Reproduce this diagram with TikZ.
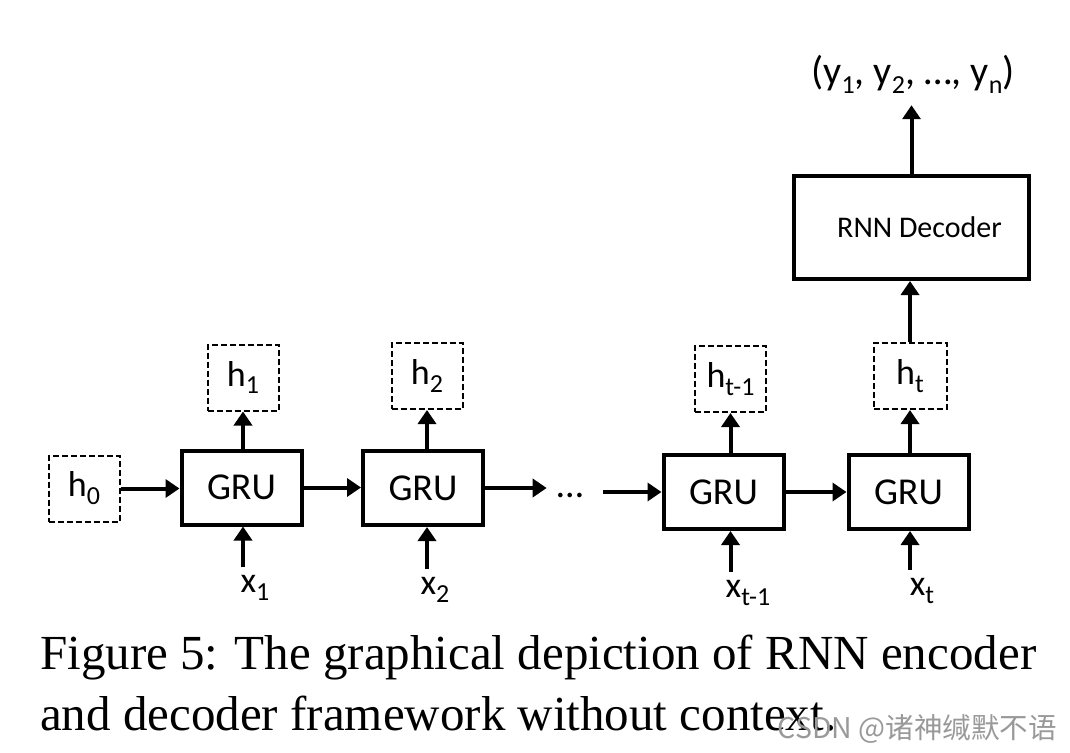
\documentclass[tikz,border=0pt]{standalone}
\usepackage{fontspec}
\usetikzlibrary{arrows.meta}
\newfontfamily\calfont{Carlito}
\newfontfamily\tnrfont{Liberation Serif}
\newfontfamily\cjkfont{Noto Sans CJK SC}
\newcommand\sbs[1]{\raisebox{-0.22em}{\fontsize{26pt}{26pt}\selectfont #1}}
\tikzset{
  grubox/.style={draw, line width=4pt, minimum width=120pt, minimum height=74pt, inner sep=0pt,
    font=\calfont\fontsize{38pt}{40pt}\selectfont},
  hbox/.style={draw, line width=2pt, dash pattern=on 6pt off 3pt, minimum width=71pt, minimum height=66pt, inner sep=0pt,
    font=\calfont\fontsize{36pt}{38pt}\selectfont},
  lbl/.style={inner sep=2pt, font=\calfont\fontsize{36pt}{38pt}\selectfont},
  conn/.style={line width=4pt, -{Triangle[length=14pt,width=18pt]}},
}
\begin{document}
\begin{tikzpicture}[x=1pt,y=-1pt]
\useasboundingbox (0,0) rectangle (1070,752);
% encoder
\node[hbox] (h0) at (84,488.5) {h\sbs{0}};
\node[grubox] (g1) at (241.5,487.5) {GRU};
\node[hbox] (h1) at (243,377.5) {h\sbs{1}};
\node[lbl] (x1) at (255,588) {x\sbs{1}};
\node[grubox] (g2) at (423,488) {GRU};
\node[hbox] (h2) at (427,376) {h\sbs{2}};
\node[lbl] (x2) at (435,590) {x\sbs{2}};
\node[anchor=base, inner sep=3pt, font=\calfont\fontsize{38pt}{40pt}\selectfont] (dots) at (570,497) {…};
\node[grubox] (g3) at (723.5,492) {GRU};
\node[hbox] (ht1) at (730.5,379) {h\sbs{t-1}};
\node[lbl] (xt1) at (748,593) {x\sbs{t-1}};
\node[grubox] (g4) at (908.5,492) {GRU};
\node[hbox, minimum width=73pt] (ht) at (910,376) {h\sbs{t}};
\node[lbl] (xt) at (922,591) {x\sbs{t}};
% decoder
\node[draw, line width=4pt, minimum width=235pt, minimum height=103pt, inner sep=0pt,
  font=\calfont\fontsize{30pt}{33pt}\selectfont] (dec) at (911.5,227.5) {\hspace{16pt}RNN Decoder};
\node[inner sep=2pt, font=\calfont\fontsize{40pt}{42pt}\selectfont] (y) at (913,74) {(y\sbs{1}, y\sbs{2}, …, y\sbs{n})};
% connectors
\draw[conn] (h0.east) -- (h0.east -| g1.west);
\draw[conn] (g1.east) -- (g1.east -| g2.west);
\draw[conn, shorten >=7pt] (g2.east) -- (g2.east -| dots.west);
\draw[conn, shorten <=17pt] (dots.east |- g3.west) -- (g3.west);
\draw[conn] (g3.east) -- (g3.east -| g4.west);
\draw[conn] (g1.north -| h1.south) -- (h1.south);
\draw[conn] (g2.north -| h2.south) -- (h2.south);
\draw[conn] (g3.north -| ht1.south) -- (ht1.south);
\draw[conn] (g4.north -| ht.south) -- (ht.south);
\draw[conn, shorten <=6pt] (x1.north -| h1.south) -- (g1.south -| h1.south);
\draw[conn, shorten <=6pt] (x2.north -| h2.south) -- (g2.south -| h2.south);
\draw[conn, shorten <=6pt] (xt1.north -| ht1.south) -- (g3.south -| ht1.south);
\draw[conn, shorten <=6pt] (xt.north -| ht.south) -- (g4.south -| ht.south);
\draw[conn] (ht.north) -- (ht.north |- dec.south);
\draw[conn, shorten >=10pt] (dec.north) -- (y.south -| dec.north);
% caption
\node[anchor=base west, inner sep=0pt, font=\tnrfont\fontsize{49pt}{58pt}\selectfont] (cap1) at (40,669) {Figure 5: The graphical depiction of RNN encoder};
\node[anchor=base west, inner sep=0pt, font=\tnrfont\fontsize{49pt}{58pt}\selectfont] (cap2) at (40,730) {and decoder framework without context.};
\node[anchor=east, inner sep=0pt, text=black!40, font=\cjkfont\fontsize{28.5pt}{30pt}\selectfont] (wm) at (1057,729) {CSDN @诸神缄默不语};
\end{tikzpicture}
\end{document}
